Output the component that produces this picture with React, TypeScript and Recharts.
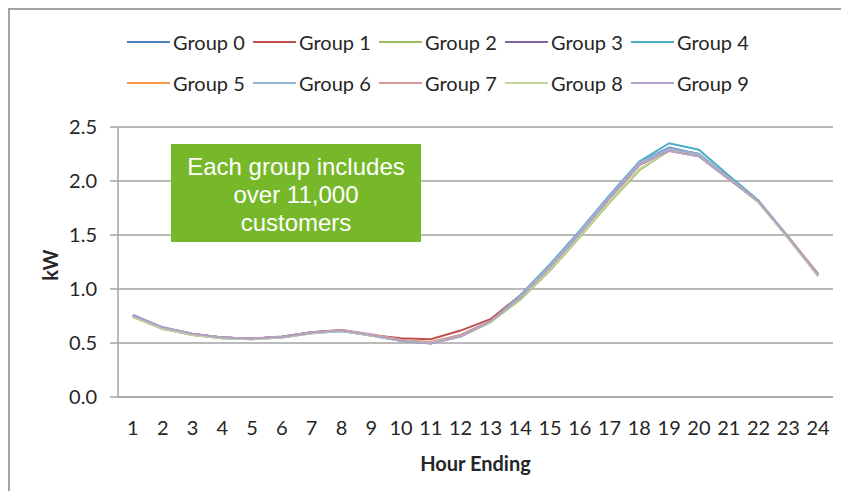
import React from "react"
import { LineChart, Line, XAxis, YAxis, CartesianGrid, Legend } from "recharts"

const hours = [1, 2, 3, 4, 5, 6, 7, 8, 9, 10, 11, 12, 13, 14, 15, 16, 17, 18, 19, 20, 21, 22, 23, 24]

const group0 = [0.75, 0.64, 0.58, 0.55, 0.54, 0.555, 0.595, 0.615, 0.575, 0.525, 0.505, 0.575, 0.7, 0.93, 1.22, 1.53, 1.86, 2.17, 2.31, 2.25, 2.03, 1.81, 1.47, 1.13]
const group1 = [0.75, 0.64, 0.58, 0.55, 0.54, 0.555, 0.6, 0.62, 0.575, 0.545, 0.535, 0.615, 0.72, 0.94, 1.21, 1.52, 1.84, 2.15, 2.29, 2.24, 2.03, 1.81, 1.48, 1.14]
const group2 = [0.74, 0.63, 0.575, 0.545, 0.535, 0.55, 0.59, 0.61, 0.57, 0.52, 0.5, 0.56, 0.69, 0.9, 1.17, 1.48, 1.8, 2.1, 2.28, 2.23, 2.02, 1.81, 1.47, 1.12]
const group3 = [0.76, 0.645, 0.585, 0.55, 0.54, 0.56, 0.6, 0.615, 0.575, 0.52, 0.495, 0.565, 0.7, 0.92, 1.2, 1.51, 1.84, 2.15, 2.28, 2.23, 2.02, 1.81, 1.48, 1.13]
const group4 = [0.75, 0.64, 0.58, 0.55, 0.54, 0.555, 0.595, 0.61, 0.57, 0.52, 0.5, 0.57, 0.7, 0.94, 1.23, 1.54, 1.87, 2.18, 2.35, 2.29, 2.05, 1.82, 1.48, 1.13]
const group5 = [0.75, 0.64, 0.58, 0.55, 0.54, 0.555, 0.595, 0.615, 0.575, 0.525, 0.505, 0.57, 0.7, 0.92, 1.2, 1.51, 1.84, 2.15, 2.29, 2.24, 2.03, 1.81, 1.47, 1.13]
const group6 = [0.75, 0.635, 0.575, 0.545, 0.535, 0.55, 0.59, 0.61, 0.57, 0.52, 0.5, 0.565, 0.7, 0.93, 1.22, 1.53, 1.86, 2.17, 2.3, 2.25, 2.03, 1.81, 1.47, 1.13]
const group7 = [0.75, 0.64, 0.58, 0.55, 0.54, 0.555, 0.6, 0.62, 0.58, 0.53, 0.51, 0.575, 0.7, 0.92, 1.2, 1.51, 1.84, 2.15, 2.28, 2.23, 2.02, 1.81, 1.48, 1.14]
const group8 = [0.74, 0.635, 0.575, 0.545, 0.535, 0.55, 0.59, 0.61, 0.57, 0.52, 0.5, 0.56, 0.69, 0.91, 1.18, 1.49, 1.81, 2.11, 2.28, 2.23, 2.02, 1.8, 1.47, 1.12]
const group9 = [0.755, 0.645, 0.585, 0.55, 0.54, 0.555, 0.595, 0.615, 0.575, 0.52, 0.495, 0.56, 0.7, 0.92, 1.2, 1.51, 1.84, 2.15, 2.28, 2.23, 2.02, 1.81, 1.48, 1.13]

const groupNames = ["Group 0", "Group 1", "Group 2", "Group 3", "Group 4", "Group 5", "Group 6", "Group 7", "Group 8", "Group 9"]
const groupValues = [group0, group1, group2, group3, group4, group5, group6, group7, group8, group9]
const groupColors = ["#4f81bd", "#c0504d", "#9bbb59", "#8064a2", "#4bacc6", "#f79646", "#95b3d7", "#d99694", "#c3d69b", "#b3a2c7"]

const yTicks = [0, 0.5, 1, 1.5, 2, 2.5]
const noteLines = ["Each group includes", "over 11,000", "customers"]

const data = hours.map((h, i) => {
  const row: Record<string, number> = { hour: h }
  groupNames.forEach((name, g) => {
    row[name] = groupValues[g][i]
  })
  return row
})

// tick marks sit between the hours, like a category axis
const boundaries = [...hours.map((h) => h - 0.5), hours[hours.length - 1] + 0.5]

const GRID = "#a3a3a3"
const TEXT = "#262626"
const FONT = "Lato, 'Noto Sans', sans-serif"

function LegendGrid({ payload }: any) {
  return (
    <div style={{ display: "flex", flexWrap: "wrap", width: 630 }}>
      {(payload || []).map((item: any) => (
        <div key={item.value} style={{ width: 126, height: 41, display: "flex", alignItems: "center" }}>
          <svg width={43} height={4} style={{ marginRight: 3 }}>
            <line x1={0} y1={2} x2={43} y2={2} stroke={item.color} strokeWidth={2} />
          </svg>
          <span style={{ fontSize: 20, color: TEXT, fontFamily: FONT }}>{item.value}</span>
        </div>
      ))}
    </div>
  )
}

export default function App() {
  return (
    <div style={{ position: "relative", width: 833, height: 483, fontFamily: FONT }}>
      <div
        style={{
          position: "absolute",
          left: 0,
          top: 0,
          right: 0,
          bottom: 0,
          borderTop: `2px solid ${GRID}`,
          borderLeft: `2px solid ${GRID}`,
          pointerEvents: "none"
        }}
      />
      <LineChart width={833} height={483} data={data} margin={{ top: 37, right: 8, left: 0, bottom: 0 }}>
        <CartesianGrid xAxisId="a" vertical={false} stroke={GRID} strokeWidth={1.5} />
        {/* labels axis, stacked below the tick-mark axis */}
        <XAxis
          xAxisId="b"
          dataKey="hour"
          type="number"
          domain={[0.5, 24.5]}
          ticks={hours}
          interval={0}
          tickLine={false}
          axisLine={false}
          tickSize={0}
          tickMargin={16}
          height={86}
          tick={{ fill: TEXT, fontSize: 20, fontFamily: FONT }}
          label={{
            content: ({ viewBox }: any) => (
              <text
                x={viewBox.x + viewBox.width / 2}
                y={viewBox.y + 58}
                textAnchor="middle"
                dominantBaseline="central"
                fontSize={20}
                fontWeight="bold"
                fill={TEXT}
                fontFamily={FONT}
              >
                Hour Ending
              </text>
            )
          }}
        />
        {/* tick-mark axis at the plot bottom */}
        <XAxis
          xAxisId="a"
          dataKey="hour"
          type="number"
          domain={[0.5, 24.5]}
          ticks={boundaries}
          interval={0}
          tick={false}
          tickSize={8}
          height={8}
          stroke={GRID}
          strokeWidth={1.5}
        />
        <YAxis
          domain={[0, 2.5]}
          ticks={yTicks}
          interval={0}
          width={110}
          tickSize={8}
          tickMargin={13}
          stroke={GRID}
          strokeWidth={1.5}
          tickFormatter={(v: number) => v.toFixed(1)}
          tick={{ fill: TEXT, fontSize: 20, fontFamily: FONT }}
          label={{
            content: ({ viewBox }: any) => {
              const cx = viewBox.x + 42
              const cy = viewBox.y + viewBox.height / 2 + 3
              return (
                <text
                  x={cx}
                  y={cy}
                  transform={`rotate(-90, ${cx}, ${cy})`}
                  textAnchor="middle"
                  dominantBaseline="central"
                  fontSize={20}
                  fontWeight="bold"
                  fill={TEXT}
                  fontFamily={FONT}
                >
                  kW
                </text>
              )
            }
          }}
        />
        <Legend
          verticalAlign="top"
          content={(props: any) => <LegendGrid {...props} />}
          wrapperStyle={{ top: 13, left: 119, width: 630 }}
        />
        {groupNames.map((name, g) => (
          <Line
            key={name}
            xAxisId="a"
            type="linear"
            dataKey={name}
            stroke={groupColors[g]}
            strokeWidth={2}
            dot={false}
            isAnimationActive={false}
          />
        ))}
      </LineChart>
      <div
        style={{
          position: "absolute",
          left: 163,
          top: 136,
          width: 250,
          height: 98,
          background: "#76b82a",
          color: "#ffffff",
          fontFamily: "'Liberation Sans', Arial, sans-serif",
          fontSize: 24,
          lineHeight: "28px",
          paddingTop: 4,
          boxSizing: "border-box",
          display: "flex",
          flexDirection: "column",
          alignItems: "center",
          justifyContent: "center",
          textAlign: "center"
        }}
      >
        {noteLines.map((line) => (
          <div key={line}>{line}</div>
        ))}
      </div>
    </div>
  )
}
